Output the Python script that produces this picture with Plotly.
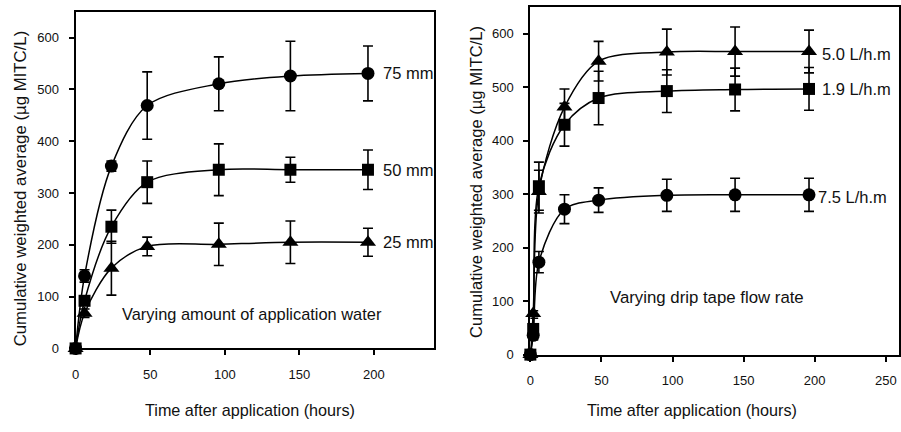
import plotly.graph_objects as go

# ---- Left panel: varying amount of application water ----
t_left = [0, 6, 24, 48, 96, 144, 196]
mm75 = [0, 140, 352, 469, 511, 526, 531]
mm75_err = [0, 12, 10, 65, 52, 67, 53]
mm50 = [0, 92, 235, 321, 345, 345, 345]
mm50_err = [0, 8, 32, 41, 50, 24, 38]
mm25 = [0, 68, 155, 197, 201, 205, 205]
mm25_err = [0, 8, 52, 18, 41, 41, 27]

# ---- Right panel: varying drip tape flow rate ----
t_right = [0, 2, 6, 24, 48, 96, 144, 196]
f50 = [0, 77, 305, 463, 549, 566, 567, 567]
f50_err = [0, 5, 40, 34, 37, 43, 46, 40]
f19 = [0, 48, 315, 430, 480, 493, 496, 497]
f19_err = [0, 20, 45, 40, 50, 40, 40, 40]
f75 = [0, 36, 173, 272, 289, 298, 299, 299]
f75_err = [0, 8, 20, 27, 23, 30, 31, 31]

FONT = "Arial, Liberation Sans, sans-serif"
TXT = "#111111"

fig = go.Figure()

def add(x, y, err, symbol, size, xa, ya):
    fig.add_trace(go.Scatter(
        x=x, y=y, mode="lines+markers", xaxis=xa, yaxis=ya,
        line=dict(color="black", width=1.5, shape="spline", smoothing=0.9),
        marker=dict(symbol=symbol, size=size, color="black"),
        error_y=dict(type="data", array=err, visible=True, color="black",
                     thickness=1.6, width=5),
        cliponaxis=False, showlegend=False))

add(t_left, mm75, mm75_err, "circle", 13, "x", "y")
add(t_left, mm50, mm50_err, "square", 12, "x", "y")
add(t_left, mm25, mm25_err, "triangle-up", 14, "x", "y")
add(t_right, f50, f50_err, "triangle-up", 14, "x2", "y2")
add(t_right, f19, f19_err, "square", 12, "x2", "y2")
add(t_right, f75, f75_err, "circle", 13, "x2", "y2")

W, H = 901, 432
axis_common = dict(showline=True, linecolor="black", linewidth=2, mirror=True,
                   ticks="outside", ticklen=5, tickwidth=1.5, tickcolor="black",
                   showgrid=False, zeroline=False,
                   tickfont=dict(family=FONT, size=13, color=TXT))

fig.update_layout(
    width=W, height=H, margin=dict(l=0, r=0, t=0, b=0),
    plot_bgcolor="white", paper_bgcolor="white",
    xaxis=dict(domain=[72/W, 432/W], range=[0, 240], tickvals=[0, 50, 100, 150, 200],
               anchor="y", ticklabelstandoff=8, **axis_common),
    yaxis=dict(domain=[1-355/H, 1-12/H], range=[0, 650], tickvals=[0, 100, 200, 300, 400, 500, 600],
               anchor="x", ticklabelstandoff=7, **axis_common),
    xaxis2=dict(domain=[529.3/W, 900/W], range=[0, 259.3], tickvals=[0, 50, 100, 150, 200, 250],
                anchor="y2", ticklabelstandoff=8, **axis_common),
    yaxis2=dict(domain=[1-361.3/H, 1-7.3/H], range=[0, 650], tickvals=[0, 100, 200, 300, 400, 500, 600],
                anchor="x2", ticklabelstandoff=7, **axis_common),
)

def ann(text, x, y, xref, yref, size=16.5, xanchor="left", angle=0):
    fig.add_annotation(text=text, x=x, y=y, xref=xref, yref=yref, showarrow=False,
                       xanchor=xanchor, yanchor="middle", textangle=angle,
                       font=dict(family=FONT, size=size, color=TXT))

# Series labels
ann("75 mm", 205, mm75[-1], "x", "y")
ann("50 mm", 205, mm50[-1], "x", "y")
ann("25 mm", 205, mm25[-1], "x", "y")
ann("5.0 L/h.m", 204, f50[-1] - 4, "x2", "y2")
ann("1.9 L/h.m", 204, f19[-1], "x2", "y2")
ann("7.5 L/h.m", 201, f75[-1] - 5, "x2", "y2")

# Panel texts
ann("Varying amount of application water", 118, 66, "x", "y", size=16.4, xanchor="center")
ann("Varying drip tape flow rate", 124.4, 107, "x2", "y2", size=16.8, xanchor="center")

# Axis titles
ann("Time after application (hours)", 247/W, 1-418/H, "paper", "paper", size=16.2, xanchor="center")
ann("Time after application (hours)", 691.7/W, 1-418/H, "paper", "paper", size=16.2, xanchor="center")
ann("Cumulative weighted average (\u00b5g MITC/L)", 17/W, 1-192/H, "paper", "paper", size=16.8,
    xanchor="center", angle=-90)
ann("Cumulative weighted average (\u00b5g MITC/L)", 475/W, 1-185/H, "paper", "paper", size=16.6,
    xanchor="center", angle=-90)

fig.write_html("out.html")
